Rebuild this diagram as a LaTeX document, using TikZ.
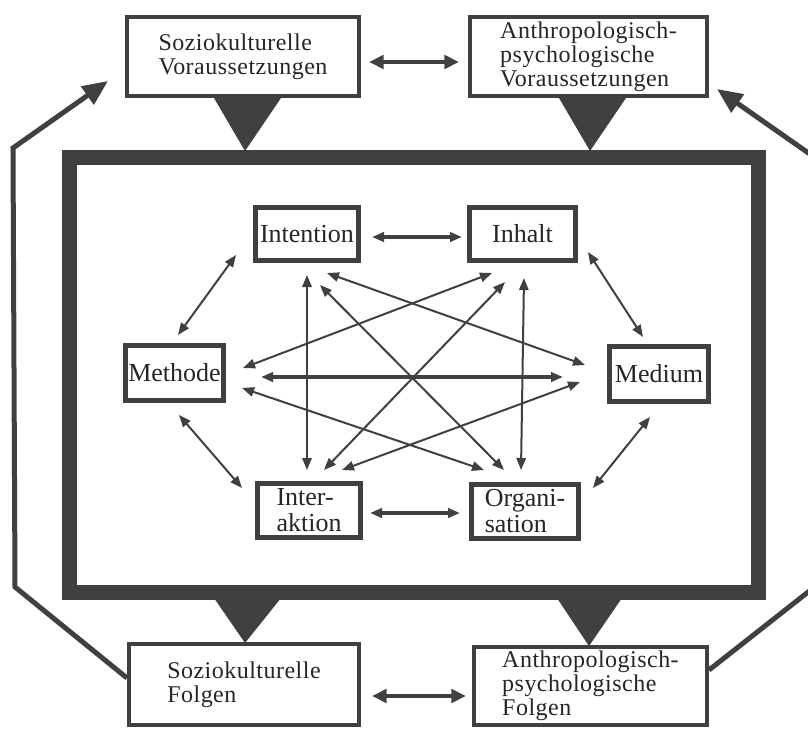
\documentclass[tikz,border=0pt]{standalone}
\usepackage{fontspec}
\setmainfont{Liberation Serif}
\newfontfamily\outerserif[LetterSpace=2]{Liberation Serif}
\newfontfamily\innerserif{Liberation Serif}
\usetikzlibrary{arrows.meta}
\definecolor{ink}{gray}{0.25}

\tikzset{
  field/.style={draw=ink, line width=3.5pt, fill=white, inner sep=0pt, align=left,
    text=black!85, font=\innerserif\fontsize{19.5}{19.5}\selectfont},
  premise/.style={draw=ink, line width=3pt, fill=white, inner sep=0pt, align=left,
    text=black!85, font=\outerserif\fontsize{18}{18}\selectfont},
  link/.style={ink, line width=1.5pt, {Triangle[length=9pt,width=7pt]}-{Triangle[length=9pt,width=7pt]}},
  wide link/.style={link, line width=2.4pt},
  pair/.style={ink, line width=3pt, {Triangle[length=11pt,width=10pt]}-{Triangle[length=11pt,width=10pt]}},
  feedback/.style={ink, line width=3.75pt, line join=miter, -{Triangle[length=19pt,width=16pt]}}
}

\begin{document}
\begin{tikzpicture}[x=0.75pt,y=-0.75pt]
\path[use as bounding box] (0,0) rectangle (808,729);
\clip (0,0) rectangle (808,729);

% thick frame and pointers
\draw[ink, line width=11.25pt] (69.5,157.5) rectangle (758.5,592.5);
\fill[ink] (214,98) -- (281,98) -- (245,151) -- cycle;
\fill[ink] (559,98) -- (626,98) -- (590,151) -- cycle;
\fill[ink] (214,598) -- (281,598) -- (245,643) -- cycle;
\fill[ink] (557,598) -- (622,598) -- (589,646) -- cycle;

% outer boxes
\node[premise, minimum width=174pt, minimum height=59.25pt] (vorSozio) at (243,56.5)
  {Soziokulturelle\\Voraussetzungen};
\node[premise, minimum width=177.75pt, minimum height=59.25pt] (vorAnthro) at (588.5,56.5)
  {Anthropologisch-\\psychologische\\Voraussetzungen};
\node[premise, minimum width=172.5pt, minimum height=60.75pt] (folSozio) at (244,684.5)
  {Soziokulturelle\\Folgen};
\node[premise, minimum width=174.75pt, minimum height=58.5pt] (folAnthro) at (590.5,686)
  {Anthropologisch-\\psychologische\\Folgen};

% inner boxes
\node[field, minimum width=77.5pt, minimum height=40pt] (intention) at (307,234) {Intention};
\node[field, minimum width=79.75pt, minimum height=40pt] (inhalt) at (522.5,234) {Inhalt};
\node[field, minimum width=73.75pt, minimum height=41.5pt] (methode) at (174.5,373) {Methode};
\node[field, minimum width=74.5pt, minimum height=41.5pt] (medium) at (659,374) {Medium};
\node[field, minimum width=77.5pt, minimum height=40.75pt] (interaktion) at (309,510.5) {Inter-\\aktion};
\node[field, minimum width=80.5pt, minimum height=40.75pt] (organisation) at (525,511.5) {Organi-\\sation};

% feedback loops
\coordinate (bendLB) at (15,587);
\coordinate (bendLT) at (13,148);
\coordinate (bendRB) at (817,585);
\coordinate (bendRT) at (817,159);
\draw[feedback] ([shift={(0,-6.5)}]folSozio.west) -- (bendLB) -- (bendLT)
  -- ([shift={(-17,-17)}]vorSozio.south west);
\draw[feedback] ([shift={(0,-16)}]folAnthro.east) -- (bendRB) -- (bendRT)
  -- ([shift={(8,-9)}]vorAnthro.south east);

\draw[pair] ([shift={(8,5.5)}]vorSozio.east) -- ([shift={(-9,5.5)}]vorAnthro.west);
\draw[pair] ([shift={(11,11.5)}]folSozio.east) -- ([shift={(-6,10)}]folAnthro.west);

% ring
\draw[wide link] ([shift={(11,3)}]intention.east) -- ([shift={(-5,3)}]inhalt.west);
\draw[link] ([shift={(-17,-8)}]intention.south west) -- ([shift={(3.5,-8)}]methode.north);
\draw[link] ([shift={(10,-11)}]inhalt.south east) -- ([shift={(-16,-7)}]medium.north);
\draw[link] ([shift={(4.5,12)}]methode.south) -- ([shift={(-13,-22.5)}]interaktion.west);
\draw[link] ([shift={(-9,13)}]medium.south) -- ([shift={(12,-23.5)}]organisation.east);
\draw[wide link] ([shift={(7,2.5)}]interaktion.east) -- ([shift={(-9,1.5)}]organisation.west);

% cross links
\draw[wide link] ([shift={(35,4)}]methode.east) -- ([shift={(-44,3)}]medium.west);
\draw[link] ([shift={(0,12)}]intention.south) -- ([shift={(-2,-11)}]interaktion.north);
\draw[link] ([shift={(1.5,15)}]inhalt.south) -- ([shift={(-4,-12)}]organisation.north);
\draw[link] ([shift={(13,22)}]intention.south) -- ([shift={(-21,-12)}]organisation.north);
\draw[link] ([shift={(-17.5,19)}]inhalt.south) -- ([shift={(15,-11)}]interaktion.north);
\draw[link] ([shift={(20,10)}]intention.south) -- ([shift={(-22,-9)}]medium.west);
\draw[link] ([shift={(-30.5,10)}]inhalt.south) -- ([shift={(17,-5)}]methode.east);
\draw[link] ([shift={(16,15)}]methode.east) -- ([shift={(-41,-12)}]organisation.north);
\draw[link] ([shift={(-27,8)}]medium.west) -- ([shift={(33,-11)}]interaktion.north);

\end{tikzpicture}
\end{document}
